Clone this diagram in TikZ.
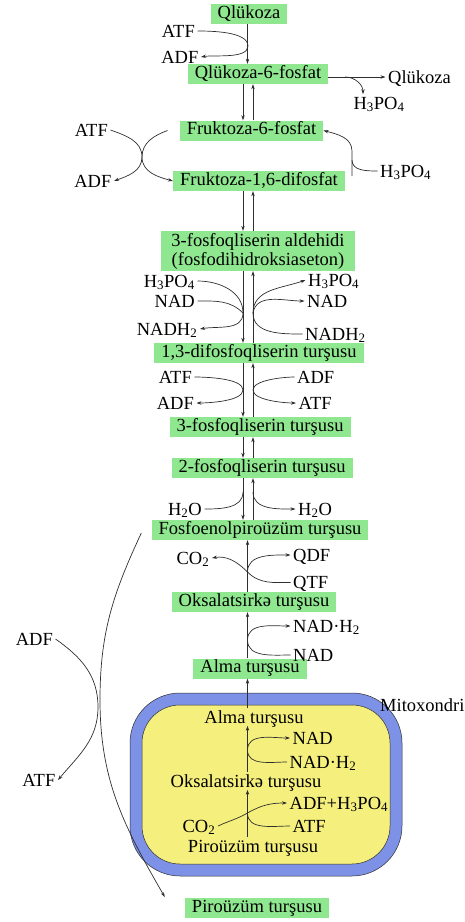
\documentclass[tikz,border=0pt]{standalone}
\usepackage{fontspec}
\setmainfont{Liberation Serif}
\usetikzlibrary{arrows.meta,calc}
\definecolor{mtGreen}{HTML}{8FE88F}
\definecolor{mtBlue}{HTML}{7D91E6}
\definecolor{mtYellow}{HTML}{F5F07D}
\definecolor{mtLine}{HTML}{2E2E2E}
\newcommand{\ph}{H\textsubscript{3}PO\textsubscript{4}}
\tikzset{
  box/.style={fill=mtGreen,inner xsep=7pt,inner ysep=1.6pt},
  metab/.style={box,text height=12.8pt,text depth=4pt},
  lbl/.style={inner sep=2.5pt,text height=12.2pt,text depth=0pt},
  link/.style={draw=mtLine,line width=0.7pt},
  flow/.style={link,-{Stealth[length=5pt,width=3.4pt]}},
}

\begin{document}
\begin{tikzpicture}[x=1pt,y=1pt,font=\fontsize{18.5}{19}\selectfont]
\useasboundingbox (0,0) rectangle (465,-922);
\coordinate (axL) at (243,0);
\coordinate (axR) at (253,0);
\coordinate (axM) at (247.5,0);

% mitochondrion
\node[draw=mtLine,line width=0.5pt,fill=mtBlue,rounded corners=50pt,minimum width=272pt,minimum height=183pt,inner sep=0pt] (mitoOut) at (266,-784.5) {};
\node[draw=mtLine,line width=0.5pt,fill=mtYellow,rounded corners=38pt,minimum width=248pt,minimum height=159pt,inner sep=0pt] (mitoIn) at (266,-784.5) {};
\node[lbl,anchor=west,inner sep=0pt] (mitoLbl) at (380,-705) {Mitoxondri};

% main chain
\node[metab] (glc) at (249,-14) {Qlükoza};
\node[metab] (g6p) at (258,-74) {Qlükoza-6-fosfat};
\node[metab] (f6p) at (251.5,-130.5) {Fruktoza-6-fosfat};
\node[metab] (f16p) at (259,-181) {Fruktoza-1,6-difosfat};
\node[box,inner xsep=10pt,inner ysep=2pt,align=center] (gap) at (258,-251) {3-fosfoqliserin aldehidi\\(fosfodihidroksiaseton)};
\node[metab] (bpg) at (259,-353) {1,3-difosfoqliserin turşusu};
\node[metab] (pg3) at (260,-427) {3-fosfoqliserin turşusu};
\node[metab] (pg2) at (262,-468) {2-fosfoqliserin turşusu};
\node[metab] (pep) at (260,-530) {Fosfoenolpiroüzüm turşusu};
\node[metab] (oaa) at (254,-602) {Oksalatsirkə turşusu};
\node[metab] (mal) at (250,-668.5) {Alma turşusu};
\node[metab] (pyr) at (257,-908) {Piroüzüm turşusu};

% inside the mitochondrion
\node[lbl] (almaIn) at (254,-717) {Alma turşusu};
\node[lbl,anchor=west] (nadIn) at (290,-738) {NAD};
\node[lbl,anchor=west] (nadhIn) at (287,-762) {NAD·H\textsubscript{2}};
\node[lbl] (oaaIn) at (246,-781) {Oksalatsirkə turşusu};
\node[lbl,anchor=west] (adfpIn) at (287,-803) {ADF+\ph};
\node[lbl,anchor=east] (co2In) at (218,-826) {CO\textsubscript{2}};
\node[lbl,anchor=west] (atfIn) at (290,-826) {ATF};
\node[lbl] (pyrIn) at (253,-846) {Piroüzüm turşusu};

% side substances
\node[lbl,anchor=east] (atfA) at (197.5,-31) {ATF};
\node[lbl,anchor=east] (adfA) at (201,-57) {ADF};
\node[lbl,anchor=west] (glcR) at (385.5,-77) {Qlükoza};
\node[lbl] (phA) at (379,-103) {\ph};
\node[lbl,anchor=east] (atfB) at (110.5,-130) {ATF};
\node[lbl,anchor=east] (adfB) at (114,-181) {ADF};
\node[lbl,anchor=west] (phB) at (377.5,-171) {\ph};
\node[lbl,anchor=east] (phC) at (197.5,-281) {\ph};
\node[lbl,anchor=east] (nadC) at (197.5,-301) {NAD};
\node[lbl,anchor=east] (nadhC) at (200,-329) {NADH\textsubscript{2}};
\node[lbl,anchor=west] (phD) at (305.5,-280) {\ph};
\node[lbl,anchor=west] (nadD) at (304.5,-301) {NAD};
\node[lbl,anchor=west] (nadhD) at (302.5,-334) {NADH\textsubscript{2}};
\node[lbl,anchor=east] (atfE) at (194.5,-377) {ATF};
\node[lbl,anchor=east] (adfE) at (196.5,-403) {ADF};
\node[lbl,anchor=west] (adfF) at (294.5,-377) {ADF};
\node[lbl,anchor=west] (atfF) at (296,-403) {ATF};
\node[lbl,anchor=east] (h2oG) at (204.5,-509) {H\textsubscript{2}O};
\node[lbl,anchor=west] (h2oH) at (295.5,-509) {H\textsubscript{2}O};
\node[lbl,anchor=east] (co2J) at (212,-558) {CO\textsubscript{2}};
\node[lbl,anchor=west] (qdfJ) at (290.5,-555) {QDF};
\node[lbl,anchor=west] (qtfJ) at (290.5,-582.5) {QTF};
\node[lbl,anchor=west] (nadhK) at (290.5,-626) {NAD·H\textsubscript{2}};
\node[lbl,anchor=west] (nadK) at (290.5,-655) {NAD};
\node[lbl,anchor=east] (adfL) at (55.5,-639) {ADF};
\node[lbl,anchor=east] (atfL) at (58,-780) {ATF};

% junctions on the axis
\coordinate (jGlc) at (248,-46);
\coordinate (jPi) at (345,-77);
\coordinate (jFru) at (142,-157);
\coordinate (jF6a) at ([xshift=-12pt]f6p.west);
\coordinate (jVb) at (352,-176);
\coordinate (jVm) at (352,-160);
\coordinate (jVt) at (352,-151);
\coordinate (jGapL) at (243,-313);
\coordinate (jGapR) at (253,-313);
\coordinate (jBpgL) at (243,-390);
\coordinate (jBpgR) at (253,-390);
\coordinate (jPgL) at (243,-492);
\coordinate (jPgR) at (253,-492);
\coordinate (jOaa) at (247.5,-572);
\coordinate (jMal) at (247.5,-640);
\coordinate (jNadIn) at (247.5,-750);
\coordinate (jCo2In) at (247.5,-813);
\coordinate (jAdf) at (98,-707);
\coordinate (jPep) at ([xshift=-10pt,yshift=-3pt]pep.west);
\coordinate (jBig) at (100,-700);
\coordinate (jPyr) at ([xshift=-20pt,yshift=11pt]pyr.west);

% glucose -> glucose-6-phosphate
\draw[flow] (glc.south -| axM) -- (g6p.north -| axM);
\draw[flow] (atfA.east) to[out=0,in=90,looseness=0.7] (jGlc) to[out=-90,in=10,looseness=0.7] (adfA.east);
\draw[flow] (g6p.east |- glcR.west) -- (glcR.west);
\draw[flow] (jPi) to[out=0,in=90] ([xshift=-16pt]phA.north);
\draw[flow] (g6p.south -| axL) -- (f6p.north -| axL);
\draw[flow] (f6p.north -| axR) -- (g6p.south -| axR);

% fructose phosphates
\draw[flow] (atfB.east) to[out=-20,in=90] (jFru) to[out=-90,in=20] (adfB.east);
\draw[flow] (jF6a) to[out=200,in=90] (jFru) to[out=-90,in=165] (f16p.west);
\draw[flow] (jVb) -- (jVt) to[out=90,in=-15] (f6p.east);
\draw[link] (phB.west) to[out=180,in=-90] (jVm);
\draw[flow] (f16p.south -| axL) -- (gap.north -| axL);
\draw[flow] (gap.north -| axR) -- (f16p.south -| axR);

% aldehyde <-> 1,3-diphosphoglycerate
\draw[flow] (gap.south -| axL) -- (bpg.north -| axL);
\draw[flow] (bpg.north -| axR) -- (gap.south -| axR);
\draw[link] (phC.east) to[out=0,in=90] (jGapL);
\draw[link] (nadC.east) to[out=0,in=135] (jGapL);
\draw[flow] (jGapL) to[out=-90,in=10] (nadhC.east);
\draw[link] (nadhD.west) to[out=180,in=-90] (jGapR);
\draw[flow] (jGapR) to[out=90,in=200] (phD.west);
\draw[flow] (jGapR) to[out=80,in=180] (nadD.west);

% 1,3-diphosphoglycerate <-> 3-phosphoglycerate
\draw[flow] (bpg.south -| axL) -- (pg3.north -| axL);
\draw[flow] (pg3.north -| axR) -- (bpg.south -| axR);
\draw[flow] (atfE.east) to[out=0,in=90,looseness=0.6] (jBpgL) to[out=-90,in=0,looseness=0.6] (adfE.east);
\draw[flow] (adfF.west) to[out=180,in=90,looseness=0.6] (jBpgR) to[out=-90,in=180,looseness=0.6] (atfF.west);

% 3-, 2-phosphoglycerate, PEP
\draw[flow] (pg3.south -| axL) -- (pg2.north -| axL);
\draw[flow] (pg2.north -| axR) -- (pg3.south -| axR);
\draw[flow] (pg2.south -| axL) -- (pep.north -| axL);
\draw[flow] (pep.north -| axR) -- (pg2.south -| axR);
\draw[link] (h2oG.east) to[out=0,in=-90] (jPgL);
\draw[flow] (jPgR) to[out=-90,in=180] (h2oH.west);

% oxaloacetate -> PEP, malate -> oxaloacetate
\draw[flow] (oaa.north -| axM) -- (pep.south -| axM);
\draw[flow] (qtfJ.west) to[out=180,in=-45] (jOaa) to[out=135,in=10] (co2J.east);
\draw[flow] (jOaa) to[out=90,in=180] (qdfJ.west);
\draw[flow] (mal.north -| axM) -- (oaa.south -| axM);
\draw[flow] (nadK.west) to[out=180,in=-90] (jMal) to[out=90,in=180] (nadhK.west);

% mitochondrial steps
\draw[flow] (almaIn.north -| axM) -- (mal.south -| axM);
\draw[flow] (oaaIn.north -| axM) -- (almaIn.south -| axM);
\draw[flow] (pyrIn.north -| axM) -- (oaaIn.south -| axM);
\draw[flow] (nadhIn.west) to[out=180,in=-90] (jNadIn) to[out=90,in=180] (nadIn.west);
\draw[flow] (co2In.east) to[out=25,in=-150] (jCo2In) to[out=30,in=180] (adfpIn.west);
\draw[link] (atfIn.west) to[out=180,in=-90] (jCo2In);

% PEP -> pyruvate
\draw[flow] (adfL.east) to[out=-35,in=90] (jAdf) to[out=-90,in=50] (atfL.east);
\draw[flow] (jPep) to[out=-115,in=90] (jBig) to[out=-90,in=120] (jPyr);
\end{tikzpicture}
\end{document}
